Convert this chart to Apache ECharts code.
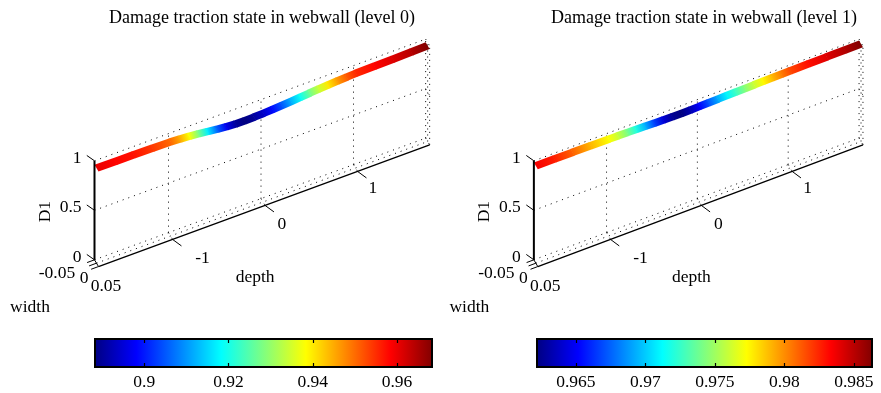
<!DOCTYPE html>
<html><head><meta charset="utf-8">
<script src="https://cdn.jsdelivr.net/npm/echarts@6/dist/echarts.min.js"></script>
<style>html,body{margin:0;padding:0;background:#fff}#c{width:881px;height:393px}</style>
</head><body><div id="c"></div>
<script>
// ---------------- data ----------------
const titles = ['Damage traction state in webwall (level 0)', 'Damage traction state in webwall (level 1)'];
const depth = [-1.8,-1.6,-1.4,-1.2,-1.0,-0.9,-0.8,-0.7,-0.6,-0.5,-0.4,-0.3,-0.2,-0.1,0,0.1,0.2,0.3,0.4,0.5,0.6,0.7,0.8,0.9,1.0,1.2,1.4,1.6,1.78];
const d1Level0 = [0.960,0.958,0.957,0.954,0.950,0.945,0.938,0.928,0.917,0.906,0.897,0.8905,0.8883,0.8905,0.894,0.899,0.905,0.912,0.919,0.927,0.934,0.940,0.946,0.951,0.955,0.958,0.961,0.964,0.9683];
const d1Level1 = [0.9835,0.9826,0.981,0.979,0.9772,0.976,0.9742,0.972,0.9695,0.9668,0.9643,0.9627,0.9622,0.9634,0.9652,0.9672,0.9692,0.971,0.9727,0.9744,0.976,0.9774,0.9789,0.9803,0.9816,0.983,0.9841,0.9851,0.9863];
const depthTicks = [-1, 0, 1];
const widthTicks = [-0.05, 0, 0.05];
const d1Ticks = [0, 0.5, 1];
const colorbarTicks0 = [0.9, 0.92, 0.94, 0.96];
const colorbarTicks1 = [0.965, 0.97, 0.975, 0.98, 0.985];
const depthRange = [-1.8, 1.78];
const widthRange = [-0.05, 0.05];
const d1Range = [0, 1];
const axisNames = {x: 'depth', y: 'width', z: 'D1'};

// ---------------- layout / style ----------------
const FONT_FAMILY = '"Liberation Serif", "Times New Roman", serif';
const FS = 17.5;
const font = s => `${s}px ${FONT_FAMILY}`;
const K = {kxw: 0.4324, kyd: 0.3434, kyw: 0.68};   // oblique projection
function proj(d, w, v) { return [d + K.kxw * w, v + K.kyd * d - K.kyw * w]; }
function jet(t) {
  t = Math.max(0, Math.min(1, t));
  const c = x => Math.round(255 * Math.max(0, Math.min(1, x)));
  return `rgb(${c(1.5 - Math.abs(4 * t - 3))},${c(1.5 - Math.abs(4 * t - 2))},${c(1.5 - Math.abs(4 * t - 1))})`;
}
const jetStops = [0, 0.125, 0.375, 0.625, 0.875, 1].map(t => ({offset: t, color: jet(t)}));
const fmt = v => String(+v.toFixed(4));

const depthLabelOff = [[30, 19], [17, 19], [15.5, 17]];
const widthLabelOff = [[-37.5, 13.5], [-12.5, 14.8], [7.5, 20]];

const panels = [
  {title: titles[0], vals: d1Level0, cbTicks: colorbarTicks0, dx: 0, cb: {left: 95, width: 337}, titleX: 262},
  {title: titles[1], vals: d1Level1, cbTicks: colorbarTicks1, dx: 440, cb: {left: 537, width: 335}, titleX: 704}
];

const [dmin, dmax] = depthRange, [wmin, wmax] = widthRange, [vmin, vmax] = d1Range;

// box grid segments (dotted)
const dotted = [];
d1Ticks.forEach(v => { dotted.push([dmin, wmin, v, dmax, wmin, v]); dotted.push([dmax, wmin, v, dmax, wmax, v]); });
depthTicks.forEach(d => { dotted.push([d, wmin, vmin, d, wmin, vmax]); dotted.push([d, wmin, vmin, d, wmax, vmin]); });
widthTicks.forEach(w => {
  dotted.push([dmax, w, vmin, dmax, w, vmax]);
  if (w > wmin && w < wmax) dotted.push([dmin, w, vmin, dmax, w, vmin]);
});
// axis lines + ticks (solid)
const solid = [
  {s: [dmin, wmin, vmin, dmin, wmin, vmax], lw: 2},
  {s: [dmin, wmax, vmin, dmax, wmax, vmin], lw: 1.3},
  {s: [dmin, wmin, vmin, dmin, wmax, vmin], lw: 1}
];
d1Ticks.forEach(v => solid.push({s: [dmin, wmin, v, dmin - 0.04, wmin - 0.1, v], lw: 1}));
depthTicks.forEach(d => solid.push({s: [d, wmax, vmin, d + 0.045, wmax + 0.12, vmin], lw: 1}));
widthTicks.forEach(w => solid.push({s: [dmin, w, vmin, dmin - 0.08, w, vmin], lw: 1}));
// texts
const texts = [];
d1Ticks.forEach(v => texts.push({p: [dmin, wmin, v], off: [-13, -2.5], t: fmt(v), align: 'right'}));
depthTicks.forEach((d, i) => texts.push({p: [d, wmax, vmin], off: depthLabelOff[i], t: fmt(d), align: 'center'}));
widthTicks.forEach((w, i) => texts.push({p: [dmin, w, vmin], off: widthLabelOff[i], t: fmt(w), align: 'center'}));
texts.push({p: [(dmin + dmax) / 2, wmax, vmin], off: [-9, 72], t: axisNames.x, align: 'center'});
texts.push({p: [dmin, (wmin + wmax) / 2, vmin], off: [-66.5, 44], t: axisNames.y, align: 'center'});
texts.push({p: [dmin, wmin, (vmin + vmax) / 2], off: [-49.5, 1.3], t: axisNames.z, align: 'center', rot: Math.PI / 2});

const grid = [], xAxis = [], yAxis = [], series = [], graphic = [];
panels.forEach((p, k) => {
  const g = grid.length;
  grid.push({left: 59.5 + p.dx, top: 23.8, width: 388.5, height: 257.4});
  xAxis.push({gridIndex: g, type: 'value', min: -2.2, max: 2.0, show: false});
  yAxis.push({gridIndex: g, type: 'value', min: -0.8, max: 1.8, show: false});
  const base = {type: 'custom', coordinateSystem: 'cartesian2d', xAxisIndex: xAxis.length - 1, yAxisIndex: yAxis.length - 1, silent: true};
  series.push(Object.assign({}, base, {
    data: dotted.map((s, i) => [i, 0]), z: 1,
    renderItem: (params, api) => {
      const s = dotted[params.dataIndex];
      const a = api.coord(proj(s[0], s[1], s[2])), b = api.coord(proj(s[3], s[4], s[5]));
      return {type: 'line', shape: {x1: a[0], y1: a[1], x2: b[0], y2: b[1]}, style: {stroke: '#000', lineWidth: 1, lineDash: [1, 5]}};
    }
  }));
  series.push(Object.assign({}, base, {
    data: solid.map((s, i) => [i, 0]), z: 3,
    renderItem: (params, api) => {
      const o = solid[params.dataIndex], s = o.s;
      const a = api.coord(proj(s[0], s[1], s[2])), b = api.coord(proj(s[3], s[4], s[5]));
      return {type: 'line', shape: {x1: a[0], y1: a[1], x2: b[0], y2: b[1]}, style: {stroke: '#000', lineWidth: o.lw}};
    }
  }));
  series.push(Object.assign({}, base, {
    data: texts.map((s, i) => [i, 0]), z: 3,
    renderItem: (params, api) => {
      const o = texts[params.dataIndex];
      const a = api.coord(proj(o.p[0], o.p[1], o.p[2]));
      return {type: 'text', x: a[0] + o.off[0], y: a[1] + o.off[1], rotation: o.rot || 0,
        style: {text: o.t, font: font(FS), fill: '#000', align: o.align, verticalAlign: 'middle'}};
    }
  }));
  const vals = p.vals;
  const cmin = Math.min(...vals), cmax = Math.max(...vals);
  const col = v => jet((v - cmin) / (cmax - cmin));
  series.push(Object.assign({}, base, {
    data: depth.map((d, i) => [d, vals[i]]), z: 2,
    renderItem: (params, api) => {
      const i = params.dataIndex;
      if (i >= depth.length - 1) return null;
      const d0 = depth[i], d1 = depth[i + 1] + (i < depth.length - 2 ? 0.006 : 0);
      const v0 = vals[i], v1 = vals[i + 1];
      const b0 = api.coord(proj(d0, wmin, v0)), b1 = api.coord(proj(d1, wmin, v1));
      const f1 = api.coord(proj(d1, wmax, v1)), f0 = api.coord(proj(d0, wmax, v0));
      return {type: 'polygon', shape: {points: [b0, b1, f1, f0]},
        style: {fill: {type: 'linear', global: true,
          x: (b0[0] + f0[0]) / 2, y: (b0[1] + f0[1]) / 2, x2: (b1[0] + f1[0]) / 2, y2: (b1[1] + f1[1]) / 2,
          colorStops: [{offset: 0, color: col(v0)}, {offset: 1, color: col(v1)}]}}};
    }
  }));
  // colorbar
  const cg = grid.length;
  grid.push({left: p.cb.left, top: 339, width: p.cb.width, height: 28});
  const tickCommon = {show: true, inside: true, length: 4, lineStyle: {color: '#000', width: 1.2}, customValues: p.cbTicks};
  xAxis.push({gridIndex: cg, type: 'value', min: cmin, max: cmax, position: 'bottom', z: 10,
    axisLine: {show: false}, splitLine: {show: false}, axisTick: tickCommon,
    axisLabel: {customValues: p.cbTicks, formatter: v => fmt(v), margin: 6, color: '#000', fontFamily: FONT_FAMILY, fontSize: FS}});
  xAxis.push({gridIndex: cg, type: 'value', min: cmin, max: cmax, position: 'top', z: 10,
    axisLine: {show: false}, splitLine: {show: false}, axisTick: tickCommon, axisLabel: {show: false}});
  yAxis.push({gridIndex: cg, type: 'value', min: 0, max: 1, show: false});
  series.push({type: 'custom', coordinateSystem: 'cartesian2d', xAxisIndex: xAxis.length - 2, yAxisIndex: yAxis.length - 1,
    silent: true, data: [[cmin, 0]], z: 2,
    renderItem: (params, api) => {
      const a = api.coord([cmin, 0]), b = api.coord([cmax, 1]);
      return {type: 'rect', shape: {x: a[0], y: b[1], width: b[0] - a[0], height: a[1] - b[1]},
        style: {fill: {type: 'linear', x: 0, y: 0, x2: 1, y2: 0, colorStops: jetStops}, stroke: '#000', lineWidth: 2}};
    }});
  graphic.push({type: 'text', x: p.titleX, y: 18, style: {text: p.title, font: font(18), fill: '#000', align: 'center', verticalAlign: 'middle'}});
});

const chart = echarts.init(document.getElementById('c'), null, {renderer: 'canvas'});
chart.setOption({animation: false, backgroundColor: '#fff', grid, xAxis, yAxis, series, graphic});
</script></body></html>
